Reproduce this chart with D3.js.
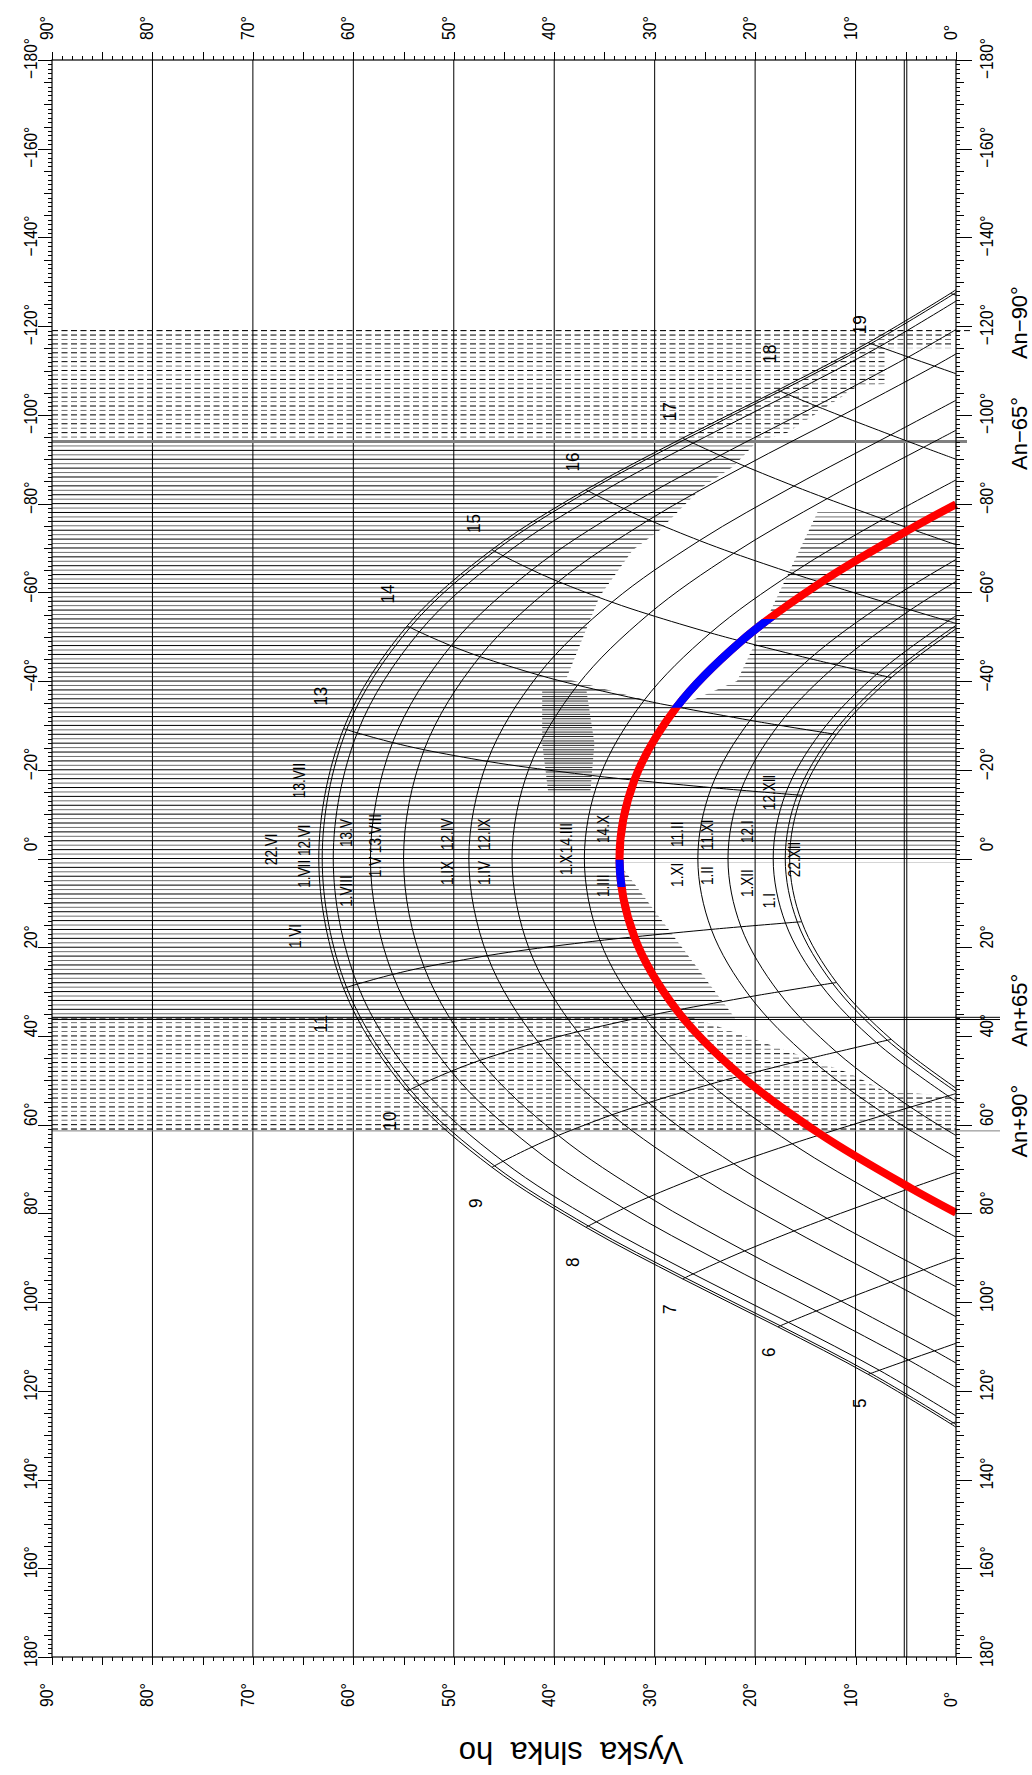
<!DOCTYPE html>
<html>
<head>
<meta charset="utf-8">
<script src="https://cdn.jsdelivr.net/npm/d3@7"></script>
<style>
body { margin: 0; background: #fff; }
svg { display: block; }
text { font-family: "Liberation Sans", Arial, sans-serif; fill: #000; }
</style>
</head>
<body>
<div id="chart"></div>
<script>
const W = 1032, H = 1775;
const plot = {left: 52, right: 956, top: 60, bottom: 1657};

// tick values
const altLabels = d3.range(0, 91, 10);
const azLabels = d3.range(-180, 181, 20);

// sun path for each date: [azimuth, altitude] at hour angle 0h,1h,2h... before noon, last point = sunrise
const path22VI  = [[0,63.44],[29.30,60.97],[52.42,54.64],[69.60,46.20],[83.13,36.84],[94.76,27.22],[105.57,17.74],[116.28,8.75],[127.38,0.56],[128.23,0]];
const path1VII  = [[0,63.10],[29.06,60.67],[52.10,54.35],[69.28,45.94],[82.84,36.60],[94.49,26.97],[105.33,17.49],[116.06,8.48],[127.19,0.28],[127.61,0]];
const path1VI   = [[0,62.00],[28.32,59.61],[51.08,53.43],[68.26,45.10],[81.90,35.80],[93.64,26.18],[104.56,16.68],[115.37,7.63],[125.65,0]];
const path13V   = [[0,58.30],[26.14,56.09],[47.96,50.27],[65.05,42.22],[78.87,33.07],[90.85,23.48],[102.00,13.92],[113.04,4.74],[119.24,0]];
const path1V    = [[0,55.00],[24.51,52.95],[45.51,47.40],[62.42,39.59],[76.32,30.58],[88.46,21.04],[99.77,11.44],[110.99,2.15],[113.74,0]];
const path1IX   = [[0,48.50],[21.90,46.66],[41.39,41.59],[57.78,34.25],[71.67,25.54],[83.96,16.13],[95.49,6.50],[103.29,0]];
const path1IV   = [[0,44.20],[20.49,42.48],[39.06,37.68],[55.04,30.62],[68.81,22.13],[81.11,12.83],[92.70,3.22],[96.54,0]];
const path1X    = [[0,37.00],[18.50,35.45],[35.65,31.05],[50.86,24.45],[64.31,16.31],[76.50,7.24],[85.33,0]];
const path1III  = [[0,33.50],[17.66,32.02],[34.17,27.80],[48.99,21.40],[62.22,13.45],[74.30,4.51],[79.86,0]];
const path1XI   = [[0,25.70],[15.98,24.36],[31.15,20.50],[45.06,14.55],[57.73,7.02],[67.40,0]];
const path1II   = [[0,22.70],[15.39,21.41],[30.07,17.68],[43.63,11.90],[56.04,4.53],[62.44,0]];
const path1XII  = [[0,18.20],[14.55,16.98],[28.51,13.44],[41.52,7.91],[53.53,0.80],[54.71,0]];
const path1I    = [[0,17.00],[14.33,15.80],[28.10,12.30],[40.97,6.84],[52.56,0]];
const path22XII = [[0,16.56],[14.26,15.36],[27.96,11.89],[40.76,6.45],[51.77,0]];

// winter -> summer
const blackPaths = [path22XII, path1I, path1XII, path1II, path1XI, path1X, path1IV, path1IX, path1V, path13V, path1VI, path1VII, path22VI];
const hourPaths = [path22XII, path1I, path1XII, path1II, path1XI, path1III, path1X, path1IV, path1IX, path1V, path13V, path1VI, path1VII, path22VI];
const redPath = path1III;

// where an hour line meets the horizon (index = hours from noon)
const hourHorizon = [null, null, null, null, [53.0,0], [70.72,0], [90.0,0], [109.28,0], [127.0,0]];

// sunlit parts of the red day (azimuth ranges)
const sunlit = [[-54, -34], [0.3, 6.4]];

// shading masks [azimuth, altitude]
const solidMask = [[-94,90],[-94,19.8],[-88.3,22.2],[-83.8,25.2],[-79.3,27.2],[-74,29.5],[-69.5,32.2],[-59,35.5],[-40.5,38.8],[-34,28],[-40,21.8],[-59,17.8],[-78,13.8],[-78,0],[0.9,0],[0.9,33.6],[24.5,25.8],[36,22],[36,90]];
const denseMask = [[-38,41.2],[-38,36.8],[-26,36.0],[-15,36.4],[-15,40.6],[-26,41.2]];
const dashMaskTop = [[-119,90],[-119,0.3],[-115,0.3],[-115,6.8],[-107,6.8],[-106.3,9.9],[-96,16.8],[-94,19.8],[-94,90]];
const dashMaskBottom = [[36,90],[36,26],[48.4,10.6],[52.2,7.3],[53.8,0],[61,0],[61,90]];

// wall lines
const wallLines = [["An\u221290°", -119], ["An\u221265°", -94], ["An+65°", 36], ["An+90°", 61]];

const dateLabels = [
  ["22.VI", 1.5, 67.6], ["1.VII 12.VI", 6.6, 64.3], ["13.VII", -13.6, 64.8], ["1.VI", 20.2, 65.2],
  ["1.VIII", 10.9, 60.1], ["13.V", -2.6, 60.1],
  ["1.V", 4.2, 57.2], ["13.VIII", -1.2, 57.2],
  ["1.IX", 6.0, 50.1], ["12.IV", -1.9, 50.1],
  ["1.IV", 6.0, 46.4], ["12.IX", -1.9, 46.4],
  ["1.X", 3.7, 38.2], ["14.III", -1.2, 38.2],
  ["1.III", 8.7, 34.5], ["14.X", -3.5, 34.5],
  ["1.XI", 6.4, 27.2], ["11.II", -2.6, 27.2],
  ["1.II", 6.0, 24.2], ["11.XI", -1.9, 24.2],
  ["1.XII", 8.7, 20.2], ["12.I", -3.5, 20.2],
  ["1.I", 11.2, 18.0], ["12.XII", -10.9, 18.0],
  ["22.XII", 4.2, 15.5]
];

const hourLabels = [["5",122.8,9.6],["6",111.3,18.6],["7",101.6,28.5],["8",91.0,38.2],["9",77.7,47.8],["10",59.2,56.4],["11",37.3,63.2],
  ["13",-36.6,63.2],["14",-59.6,56.6],["15",-75.5,48.0],["16",-89.4,38.2],["17",-100.7,28.5],["18",-113.7,18.5],["19",-120.3,9.6]];

const gridAlts = d3.range(10, 90, 10);
const doubleAlts = [4.9, 5.15];

const svg = d3.select("#chart").append("svg")
    .attr("width", W)
    .attr("height", H);

// altitude runs right to left, azimuth top to bottom
const x = d3.scaleLinear().domain([90, 0]).range([plot.left, plot.right]);
const y = d3.scaleLinear().domain([-180, 180]).range([plot.top, plot.bottom]);

const defs = svg.append("defs");
function maskPath(pts) {
    return "M" + pts.map(p => x(p[1]) + "," + y(p[0])).join("L") + "Z";
}
defs.append("clipPath").attr("id", "solid-clip").append("path").attr("d", maskPath(solidMask));
defs.append("clipPath").attr("id", "dense-clip").append("path").attr("d", maskPath(denseMask));
const dashClip = defs.append("clipPath").attr("id", "dash-clip");
dashClip.append("path").attr("d", maskPath(dashMaskTop));
dashClip.append("path").attr("d", maskPath(dashMaskBottom));
const blueClip = defs.append("clipPath").attr("id", "blue-clip");
sunlit.forEach(r => {
    blueClip.append("rect")
        .attr("x", plot.left).attr("width", plot.right - plot.left)
        .attr("y", y(r[0])).attr("height", y(r[1]) - y(r[0]));
});

// hatching (one line per degree of azimuth)
const hatchAz = d3.range(-119, 62, 1);
svg.append("g").attr("clip-path", "url(#solid-clip)")
    .selectAll("line").data(hatchAz).join("line")
    .attr("x1", x(90)).attr("x2", x(0))
    .attr("y1", d => y(d)).attr("y2", d => y(d))
    .attr("stroke", d => d % 2 === 0 ? "#000" : "#707070")
    .attr("stroke-width", 1);

svg.append("g").attr("clip-path", "url(#dense-clip)")
    .selectAll("line").data(hatchAz).join("line")
    .attr("x1", x(90)).attr("x2", x(0))
    .attr("y1", d => y(d + 0.5)).attr("y2", d => y(d + 0.5))
    .attr("stroke", "#333")
    .attr("stroke-width", 1);

svg.append("g").attr("clip-path", "url(#dash-clip)")
    .selectAll("line").data(hatchAz).join("line")
    .attr("x1", x(90)).attr("x2", x(0))
    .attr("y1", d => y(d)).attr("y2", d => y(d))
    .attr("stroke", d => d % 2 === 0 ? "#000" : "#707070")
    .attr("stroke-dasharray", "6,3.5")
    .attr("stroke-width", 1);

// altitude grid
svg.append("g").selectAll("line").data(gridAlts).join("line")
    .attr("x1", d => x(d)).attr("x2", d => x(d))
    .attr("y1", plot.top).attr("y2", plot.bottom)
    .attr("stroke", "#000").attr("stroke-width", 1);
svg.append("g").selectAll("line").data(doubleAlts).join("line")
    .attr("x1", d => x(d)).attr("x2", d => x(d))
    .attr("y1", plot.top).attr("y2", plot.bottom)
    .attr("stroke", "#000").attr("stroke-width", 1);

// wall direction lines
const wallG = svg.append("g");
wallG.append("line").attr("x1", plot.left).attr("x2", 972)
    .attr("y1", y(-119)).attr("y2", y(-119))
    .attr("stroke", "#000").attr("stroke-dasharray", "6,3.5");
wallG.append("line").attr("x1", plot.left).attr("x2", 967)
    .attr("y1", y(-94)).attr("y2", y(-94))
    .attr("stroke", "#808080").attr("stroke-width", 3);
[35.8, 36.3].forEach(a => {
    wallG.append("line").attr("x1", plot.left).attr("x2", 1000)
        .attr("y1", y(a)).attr("y2", y(a))
        .attr("stroke", "#000").attr("stroke-width", 1);
});
wallG.append("line").attr("x1", plot.left).attr("x2", plot.right)
    .attr("y1", y(61)).attr("y2", y(61))
    .attr("stroke", "#000").attr("stroke-dasharray", "6,3.5");
wallG.append("line").attr("x1", plot.left).attr("x2", 1000)
    .attr("y1", y(61.4)).attr("y2", y(61.4))
    .attr("stroke", "#808080").attr("stroke-width", 1);

// sun paths
function fullDay(p) {
    const morning = p;
    const afternoon = p.slice(1).map(d => [-d[0], d[1]]).reverse();
    return afternoon.concat(morning);
}
const sunLine = d3.line()
    .x(d => x(d[1]))
    .y(d => y(d[0]))
    .curve(d3.curveCatmullRom.alpha(0.5));

svg.append("g").selectAll("path").data(blackPaths).join("path")
    .attr("d", d => sunLine(fullDay(d)))
    .attr("fill", "none")
    .attr("stroke", "#000")
    .attr("stroke-width", 1);

// hour lines
const hourLines = [];
for (let k = 1; k <= 8; k++) {
    const pts = [];
    if (hourHorizon[k]) pts.push(hourHorizon[k]);
    hourPaths.forEach(p => {
        if (p.length - 1 > k) pts.push(p[k]);
    });
    hourLines.push(pts);
    hourLines.push(pts.map(d => [-d[0], d[1]]));
}
svg.append("g").selectAll("path").data(hourLines).join("path")
    .attr("d", d => sunLine(d))
    .attr("fill", "none")
    .attr("stroke", "#000")
    .attr("stroke-width", 1);

// highlighted day
svg.append("path")
    .attr("d", sunLine(fullDay(redPath)))
    .attr("fill", "none")
    .attr("stroke", "#ff0000")
    .attr("stroke-width", 8);
svg.append("path")
    .attr("d", sunLine(fullDay(redPath)))
    .attr("clip-path", "url(#blue-clip)")
    .attr("fill", "none")
    .attr("stroke", "#0000ff")
    .attr("stroke-width", 8);

// labels on the curves
svg.append("g").selectAll("text").data(dateLabels).join("text")
    .attr("transform", d => `translate(${x(d[2])},${y(d[1])}) rotate(-90) scale(0.85,1)`)
    .style("font-size", "16px")
    .text(d => d[0]);

svg.append("g").selectAll("text").data(hourLabels).join("text")
    .attr("transform", d => `translate(${x(d[2])},${y(d[1])}) rotate(-90) scale(0.9,1)`)
    .attr("text-anchor", "middle")
    .attr("dominant-baseline", "central")
    .style("font-size", "19px")
    .text(d => d[0]);

// frame
svg.append("rect")
    .attr("x", plot.left).attr("y", plot.top)
    .attr("width", plot.right - plot.left).attr("height", plot.bottom - plot.top)
    .attr("fill", "none").attr("stroke", "#000").attr("stroke-width", 1.2);

// axes
function tickAxis(axis, values, size, transform) {
    const g = svg.append("g")
        .attr("transform", transform)
        .call(axis.tickValues(values).tickSize(size).tickFormat(""));
    g.select(".domain").remove();
    g.selectAll(".tick line").attr("stroke", "#000").attr("shape-rendering", "crispEdges");
}
const alt1 = d3.range(0, 91, 1), alt5 = d3.range(0, 91, 5);
const az1 = d3.range(-180, 181, 1), az5 = d3.range(-180, 181, 5);
tickAxis(d3.axisTop(x), alt1, 4, `translate(0,${plot.top})`);
tickAxis(d3.axisTop(x), alt5, 8, `translate(0,${plot.top})`);
tickAxis(d3.axisBottom(x), alt1, 4, `translate(0,${plot.bottom})`);
tickAxis(d3.axisBottom(x), alt5, 8, `translate(0,${plot.bottom})`);
tickAxis(d3.axisLeft(y), az1, 4, `translate(${plot.left},0)`);
tickAxis(d3.axisLeft(y), az5, 8, `translate(${plot.left},0)`);
tickAxis(d3.axisLeft(y), azLabels, 14, `translate(${plot.left},0)`);
tickAxis(d3.axisRight(y), az1, 4, `translate(${plot.right},0)`);
tickAxis(d3.axisRight(y), az5, 8, `translate(${plot.right},0)`);
tickAxis(d3.axisRight(y), azLabels, 16, `translate(${plot.right},0)`);

const fmt = v => (v < 0 ? "\u2212" + Math.abs(v) : v) + "°";

// altitude labels, top and bottom
[40, 1707].forEach(yy => {
    svg.append("g").selectAll("text").data(altLabels).join("text")
        .attr("transform", d => `translate(${x(d) + 1},${yy}) rotate(-90) scale(0.88,1)`)
        .style("font-size", "18px")
        .text(d => d + "°");
});

// azimuth labels, left and right
[37, 993].forEach(xx => {
    svg.append("g").selectAll("text").data(azLabels).join("text")
        .attr("transform", d => `translate(${xx},${y(d) - 22}) rotate(-90) scale(0.86,1)`)
        .attr("text-anchor", "end")
        .style("font-size", "18px")
        .text(d => fmt(d));
});

// wall labels
svg.append("g").selectAll("text").data(wallLines).join("text")
    .attr("transform", d => `translate(1027,${y(d[1]) - 8}) rotate(-90)`)
    .attr("text-anchor", "middle")
    .style("font-size", "22px")
    .text(d => d[0]);

// axis title (upside down)
svg.append("text")
    .attr("transform", "translate(571,1742) rotate(180)")
    .attr("text-anchor", "middle")
    .style("font-size", "31px")
    .style("white-space", "pre")
    .text("Vyska  slnka  ho");
</script>
</body>
</html>
